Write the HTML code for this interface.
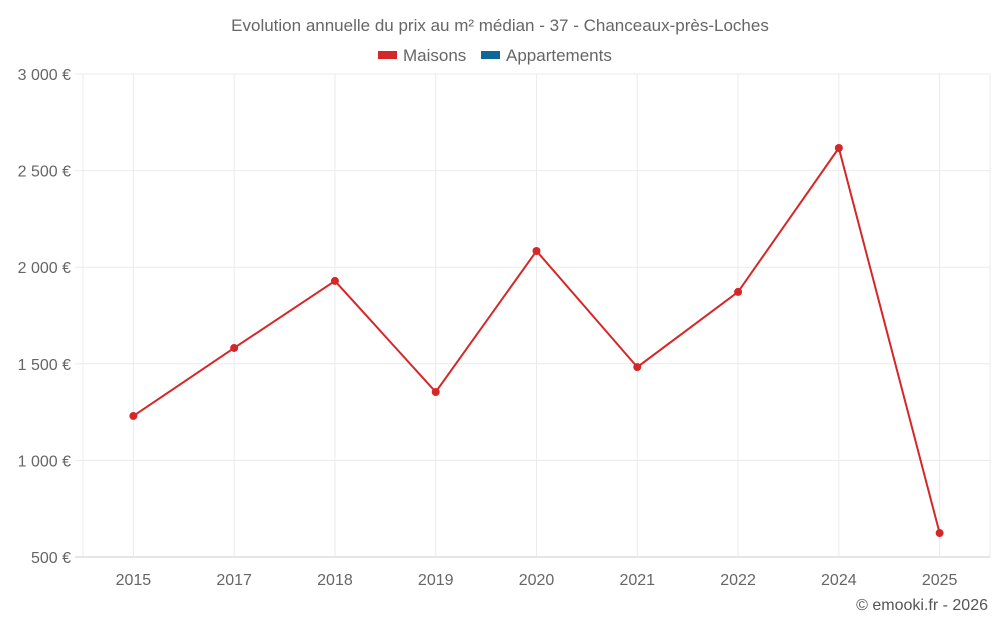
<!DOCTYPE html>
<html><head><meta charset="utf-8"><style>
body{margin:0;background:#fff;font-family:"Liberation Sans",Roboto,sans-serif;}
svg text{font-family:"Liberation Sans",sans-serif;}
</style></head><body>
<svg id="chart" width="1000" height="625">
<text x="500" y="31" text-anchor="middle" font-size="17" fill="#666">Evolution annuelle du prix au m² médian - 37 - Chanceaux-près-Loches</text>
<g><rect x="378" y="51" width="19" height="8" fill="#d62728"/><text x="403" y="61" font-size="17" fill="#666">Maisons</text></g>
<g><rect x="481" y="51" width="19" height="8" fill="#0f6699"/><text x="506" y="61" font-size="17" fill="#666">Appartements</text></g>
<g id="grid"></g><g id="axes"></g><g id="series"></g>
<text x="988" y="610" text-anchor="end" font-size="16" fill="#555">© emooki.fr - 2026</text>
</svg>
<script>
const categories=["2015","2017","2018","2019","2020","2021","2022","2024","2025"];
const maisons=[1230,1582,1929,1354,2084,1483,1872,2617,624];
const yTicks=[500,1000,1500,2000,2500,3000];
const yTickLabels=["500 €","1 000 €","1 500 €","2 000 €","2 500 €","3 000 €"];
const L=83,R=990,T=74,B=557,ymin=500,ymax=3000;
const band=(R-L)/categories.length;
const x=i=>L+band*(i+0.5);
const y=v=>B-(v-ymin)/(ymax-ymin)*(B-T);
const NS="http://www.w3.org/2000/svg";
function mk(t,a,p){const e=document.createElementNS(NS,t);for(const k in a)e.setAttribute(k,a[k]);document.getElementById(p).appendChild(e);return e;}
yTicks.forEach((v,i)=>{
 const g=mk("line",{x1:L-8,x2:R,y1:y(v),y2:y(v),stroke:i==0?"#ccc":"#ebebeb"},"grid");
 
 
 const t=mk("text",{x:71,y:y(v)+6,"text-anchor":"end","font-size":"16",fill:"#666"},"axes");t.textContent=yTickLabels[i];
 
 
});
[L,R].forEach(px=>{
 const g=mk("line",{x1:px,x2:px,y1:T,y2:B,stroke:"#ebebeb"},"grid");
 
 
});
categories.forEach((c,i)=>{
 const g=mk("line",{x1:x(i),x2:x(i),y1:T,y2:B,stroke:"#ebebeb"},"grid");
 
 
 const t=mk("text",{x:x(i),y:585,"text-anchor":"middle","font-size":"16",fill:"#666"},"axes");t.textContent=c;
 
 
});
const line=mk("polyline",{points:maisons.map((v,i)=>x(i)+","+y(v)).join(" "),fill:"none",stroke:"#d62728","stroke-width":"2"},"series");


maisons.forEach((v,i)=>{
 const c=mk("circle",{cx:x(i),cy:y(v),r:4,fill:"#d62728"},"series");
 
 
});
</script>
</body></html>
